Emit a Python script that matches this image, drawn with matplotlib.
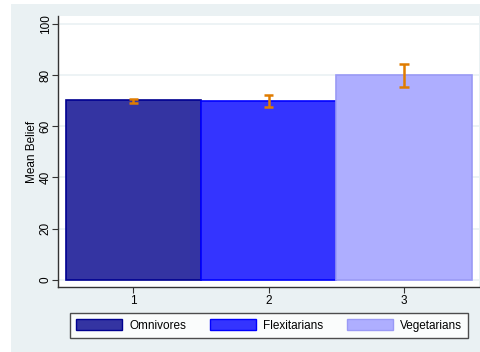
import matplotlib
matplotlib.use("Agg")
import matplotlib.pyplot as plt
from matplotlib.patches import Patch, Rectangle

plt.rcParams['font.family'] = ['Liberation Sans', 'DejaVu Sans']

groups = ["Omnivores", "Flexitarians", "Vegetarians"]
positions = [1, 2, 3]
mean_belief = [70.2, 70.0, 80.0]
ci_low = [69.3, 67.6, 75.4]
ci_high = [70.6, 72.4, 84.5]
y_ticks = [0, 20, 40, 60, 80, 100]

fills = ["#3434A2", "#3434FF", "#AEAEFF"]
edges = ["#000090", "#0000FF", "#9A9AF5"]
err_color = "#E07C00"
bg = "#EAF1F3"

W, H = 481, 352
fig = plt.figure(figsize=(W / 100, H / 100), dpi=100)
fig.patch.set_facecolor("white")
fig.patches.append(Rectangle((11 / W, 0), 1 - 11 / W, 1 - 4 / H,
                             transform=fig.transFigure, facecolor=bg,
                             edgecolor="none", zorder=-10))

ax = fig.add_axes([58.5 / W, 1 - 287 / H, (479 - 58.5) / W, (287 - 16) / H])
ax.set_facecolor("white")

for x, m, fc, ec in zip(positions, mean_belief, fills, edges):
    ax.bar(x, m, width=1.0, color=fc, edgecolor=ec, linewidth=1.2, zorder=2)

for x, lo, hi in zip(positions, ci_low, ci_high):
    ax.vlines(x, lo, hi, color=err_color, linewidth=1.8, zorder=3)
    ax.hlines([lo, hi], x - 0.035, x + 0.035, color=err_color, linewidth=1.8, zorder=3)

ax.set_xlim(0.448, 3.553)
ax.set_ylim(-2.9, 103.2)
ax.set_yticks(y_ticks)
ax.set_yticklabels([str(v) for v in y_ticks], rotation=90, va="center", fontsize=8.5)
ax.set_xticks(positions)
ax.set_xticklabels([str(p) for p in positions], fontsize=8.5)
ax.yaxis.grid(True, color=bg, linewidth=1.2, zorder=0)
ax.set_axisbelow(True)
ax.tick_params(axis="y", length=4, width=0.8, color="#333333", pad=1)
ax.tick_params(axis="x", length=4, width=0.8, color="#333333", pad=2)
for s in ["top", "right"]:
    ax.spines[s].set_visible(False)
for s in ["left", "bottom"]:
    ax.spines[s].set_color("#333333")
    ax.spines[s].set_linewidth(1.0)
ax.set_ylabel("Mean Belief", fontsize=8.5, labelpad=1)

handles = [Patch(facecolor=fc, edgecolor=ec, linewidth=1.0) for fc, ec in zip(fills, edges)]
leg = fig.legend(handles, groups, loc="center", ncol=3,
                 bbox_to_anchor=((71 + 467) / 2 / W, 1 - 325.5 / H),
                 fontsize=8.5, frameon=True, fancybox=False, edgecolor="#222222",
                 handlelength=3.9, handleheight=1.1, columnspacing=2.0,
                 handletextpad=0.6, borderpad=0.5, borderaxespad=0)
leg.get_frame().set_linewidth(1.0)

fig.savefig("out.png", dpi=100, facecolor=fig.get_facecolor())
